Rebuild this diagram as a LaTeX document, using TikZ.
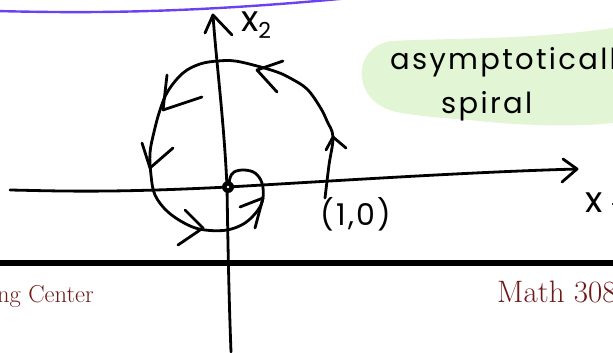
\documentclass[tikz,border=0pt]{standalone}
\usepackage{fontspec}
\newfontfamily\handfont[LetterSpace=8]{Poppins}
\usetikzlibrary{calc}

\definecolor{penpurple}{HTML}{6A42F2}
\definecolor{hlgreen}{HTML}{E2F5D4}
\definecolor{footred}{HTML}{6E1818}

\tikzset{
  ink/.style={line width=2.8pt, line cap=round, line join=round},
  handtext/.style={font=\handfont\fontsize{29}{31}\selectfont, inner sep=0pt},
  axislabel/.style={font=\handfont\fontsize{36}{38}\selectfont, inner sep=0pt},
  foottext/.style={text=footred, inner sep=0pt}
}

\begin{document}
\begin{tikzpicture}[x=1pt, y=-1pt]
	\useasboundingbox (0,0) rectangle (613,353);
	\clip (0,0) rectangle (613,353);
	
	% --- pen line at the top ---
	\draw[line width=2.4pt, penpurple, line cap=round] (-5,11) .. controls (80,13) and (180,14) .. (350,-2);
	
	% --- green highlight behind the note ---
	\fill[hlgreen] (392,41) .. controls (450,38) and (540,40) .. (625,26) -- (625,121)
		.. controls (590,128) and (520,126) .. (470,120) .. controls (440,118) and (420,116) .. (402,113)
		.. controls (350,106) and (350,46) .. (392,41) -- cycle;
	\node[handtext, anchor=base west] (NoteTop) at (390,70) {asymptotically};
	\node[handtext, anchor=base west] (NoteBottom) at (441,113) {spiral};
	
	% --- footer ---
	\draw[line width=6pt] (-5,263) -- (620,263);
	\node[foottext, font=\fontsize{24.5}{27}\selectfont, anchor=base east] (FootLeft) at (94,302) {ng Center};
	\node[foottext, font=\fontsize{31}{34}\selectfont, anchor=base west] (FootRight) at (497,302) {Math 308};
	
	% --- axes ---
	\draw[ink] (10,190) .. controls (60,191) and (110,193) .. (228,187) .. controls (350,180) and (470,172) .. (577,169);
	\draw[ink] (563,159) -- (577,169) -- (562,182);
	\node[axislabel, anchor=base west] (XOne) at (585,212) {x\hspace{9pt}\raisebox{-7pt}{\fontsize{22}{22}\selectfont 1}};
	
	\draw[ink] (231,352) .. controls (229,300) and (228,250) .. (227,187) .. controls (224,120) and (216,60) .. (213,15);
	\draw[ink] (205,33) -- (213,15) -- (232,35);
	\node[axislabel, anchor=base west] (XTwo) at (241,32) {x\raisebox{-7pt}{\fontsize{22}{22}\selectfont 2}};
	
	% --- the spiral, starting at (1,0) ---
	\draw[ink] plot[smooth, tension=0.6] coordinates {
		(325,198) (329,165) (333,137) (327,121) (320,107) (307,89) (290,78) (277,72)
		(257,66) (235,61) (218,61) (200,64) (183,73) (168,91) (160,110) (154,132)
		(150,153) (151,175) (155,195) (168,212) (188,225) (205,230) (227,230)
		(245,223) (258,210) (263,198) (262,183) (255,173) (244,170) (234,172)
		(230,178) (229,186)};
	
	% arrow heads along the spiral
	\draw[ink] (326,150) -- (333,137) -- (346,148);
	\draw[ink] (283,61) -- (257,70) -- (277,92);
	\draw[ink] (167,75) -- (163,110) -- (202,97);
	\draw[ink] (142,143) -- (150,168) -- (173,148);
	\draw[ink] (185,210) -- (203,228) -- (178,245);
	\draw[ink] (240,207) -- (263,198) -- (255,228);
	
	% origin
	\fill (228,187) circle (6pt);
	\fill[white] (228,187) circle (1.4pt);
	
	\node[handtext, font=\handfont\fontsize{30}{32}\selectfont] (PointOne) at (356,214) {(1,0)};
	
\end{tikzpicture}
\end{document}
